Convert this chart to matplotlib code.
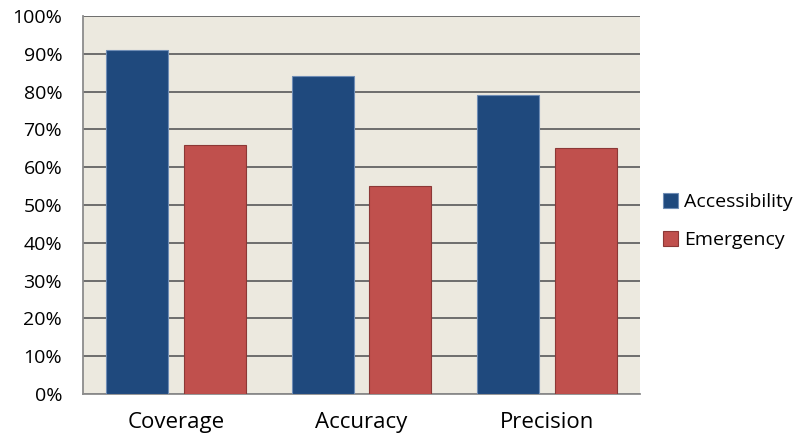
import matplotlib
matplotlib.use("Agg")
import matplotlib.pyplot as plt
import numpy as np

categories = ["Coverage", "Accuracy", "Precision"]
accessibility = [0.91, 0.84, 0.79]
emergency = [0.66, 0.55, 0.65]
series_names = ["Accessibility", "Emergency"]
y_ticks = [0, 0.1, 0.2, 0.3, 0.4, 0.5, 0.6, 0.7, 0.8, 0.9, 1.0]
y_labels = [f"{int(round(v * 100))}%" for v in y_ticks]

plt.rcParams["font.family"] = ["Open Sans", "DejaVu Sans"]

fig = plt.figure(figsize=(7.98, 4.38), dpi=100)
ax = fig.add_axes([83 / 798, 1 - 394 / 438, (640 - 83) / 798, (394 - 16) / 438])
ax.set_facecolor("#ECE9DF")

x = np.arange(len(categories))
w = 0.334
off = 0.21
ax.bar(x - off, accessibility, w, color="#1F497D", edgecolor="#6F8DB5",
       linewidth=0.8, label=series_names[0], zorder=3)
ax.bar(x + off, emergency, w, color="#C0504D", edgecolor="#8C3836",
       linewidth=0.8, label=series_names[1], zorder=3)

ax.set_xlim(-0.5, 2.5)
ax.set_ylim(0, 1.0)
ax.set_yticks(y_ticks)
ax.set_yticklabels(y_labels, fontsize=14)
ax.set_xticks(x)
ax.set_xticklabels(categories, fontsize=16)
ax.tick_params(axis="both", length=0, colors="#000000")
ax.tick_params(axis="y", pad=15)
ax.tick_params(axis="x", pad=13)
ax.yaxis.grid(True, color="#636363", linewidth=1.3, zorder=0)
ax.set_axisbelow(True)

for side in ["top", "right"]:
    ax.spines[side].set_visible(False)
for side in ["left", "bottom"]:
    ax.spines[side].set_color("#8C8C8C")
    ax.spines[side].set_linewidth(1.3)

fig.legend(loc="center left", bbox_to_anchor=(649 / 798, 1 - 221 / 438),
           frameon=False, fontsize=14, handlelength=0.8, handleheight=0.8,
           handletextpad=0.3, labelspacing=1.0, borderpad=0.2)

fig.savefig("out.png", dpi=100)
